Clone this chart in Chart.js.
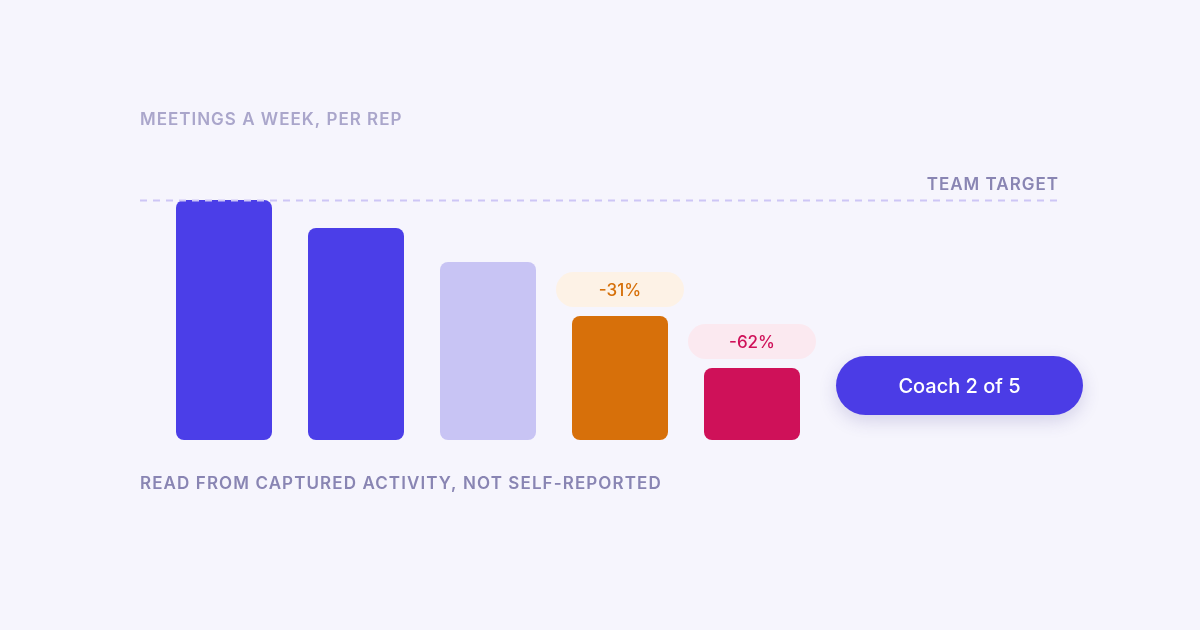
<!DOCTYPE html>
<html>
<head>
<meta charset="utf-8">
<script src="https://cdn.jsdelivr.net/npm/chart.js@4.4.1/dist/chart.umd.min.js"></script>
<style>
  html, body { margin: 0; padding: 0; background: #f6f5fd; }
  #wrap { width: 1200px; height: 630px; position: relative; }
</style>
</head>
<body>
<div id="wrap"><canvas id="chart" width="1200" height="630"></canvas></div>
<script>
// Data
const reps = ['Rep A', 'Rep B', 'Rep C', 'Rep D', 'Rep E'];
const meetings = [12, 10.6, 8.9, 6.2, 3.6];
const barColors = ['#4b3ee8', '#4b3ee8', '#c8c4f4', '#d7700a', '#cf1159'];
const teamTarget = 12;
const changeLabels = [null, null, null, '-31%', '-62%'];
const pillBg = [null, null, null, '#fdf2e6', '#fbe9f0'];
const pillText = [null, null, null, '#d6700a', '#cf1159'];

const FONT = 'Inter, "Noto Sans", sans-serif';

// Draws title, target line, pills, footnote and the coach button
const decor = {
    id: 'decor',
    afterDatasetsDraw(chart) {
        const ctx = chart.ctx;
        const area = chart.chartArea;
        const y = chart.scales.y;
        const left = area.left - 18;

        ctx.save();
        ctx.letterSpacing = '1px';
        ctx.font = '600 17px ' + FONT;
        ctx.fillStyle = '#aaa6cb';
        ctx.textBaseline = 'middle';
        ctx.textAlign = 'left';
        ctx.fillText('MEETINGS A WEEK, PER REP', left, 120);

        // team target line
        const ty = Math.round(y.getPixelForValue(teamTarget)) + 0.5;
        ctx.strokeStyle = '#cdc6f6';
        ctx.lineWidth = 2;
        ctx.setLineDash([7, 6]);
        ctx.beginPath();
        ctx.moveTo(left, ty);
        ctx.lineTo(1058, ty);
        ctx.stroke();
        ctx.setLineDash([]);

        ctx.fillStyle = '#8985b3';
        ctx.textAlign = 'right';
        ctx.fillText('TEAM TARGET', 1059, ty - 16);

        ctx.letterSpacing = '1.1px';
        ctx.textAlign = 'left';
        ctx.fillText('READ FROM CAPTURED ACTIVITY, NOT SELF-REPORTED', left, 484);
        ctx.letterSpacing = '0px';

        // change pills
        const meta = chart.getDatasetMeta(0);
        meta.data.forEach((bar, i) => {
            if (!changeLabels[i]) return;
            const w = 128, h = 35;
            const cx = bar.x;
            const bottom = bar.y - 9;
            ctx.fillStyle = pillBg[i];
            ctx.beginPath();
            ctx.roundRect(cx - w / 2, bottom - h, w, h, h / 2);
            ctx.fill();
            ctx.fillStyle = pillText[i];
            ctx.textAlign = 'center';
            ctx.font = '500 17px ' + FONT;
            ctx.fillText(changeLabels[i], cx, bottom - h / 2 + 1);
        });

        // coach button
        const bx = area.right + 18, by = 356, bw = 247, bh = 59;
        ctx.shadowColor = 'rgba(60, 50, 140, 0.18)';
        ctx.shadowBlur = 18;
        ctx.shadowOffsetY = 6;
        ctx.fillStyle = '#4b3ce6';
        ctx.beginPath();
        ctx.roundRect(bx, by, bw, bh, bh / 2);
        ctx.fill();
        ctx.shadowColor = 'transparent';
        ctx.fillStyle = '#ffffff';
        ctx.textAlign = 'center';
        ctx.font = '500 20px ' + FONT;
        ctx.fillText('Coach 2 of 5', bx + bw / 2, by + bh / 2 + 1);
        ctx.restore();
    }
};

new Chart(document.getElementById('chart'), {
    type: 'bar',
    data: {
        labels: reps,
        datasets: [{
            data: meetings,
            backgroundColor: barColors,
            borderRadius: 8,
            borderSkipped: false,
            barPercentage: 96 / 132,
            categoryPercentage: 1
        }]
    },
    options: {
        responsive: false,
        animation: false,
        layout: { padding: { left: 158, right: 382, top: 200, bottom: 190 } },
        plugins: { legend: { display: false }, tooltip: { enabled: false } },
        scales: {
            x: { display: false },
            y: { display: false, min: 0, max: 12 }
        }
    },
    plugins: [decor]
});
</script>
</body>
</html>
